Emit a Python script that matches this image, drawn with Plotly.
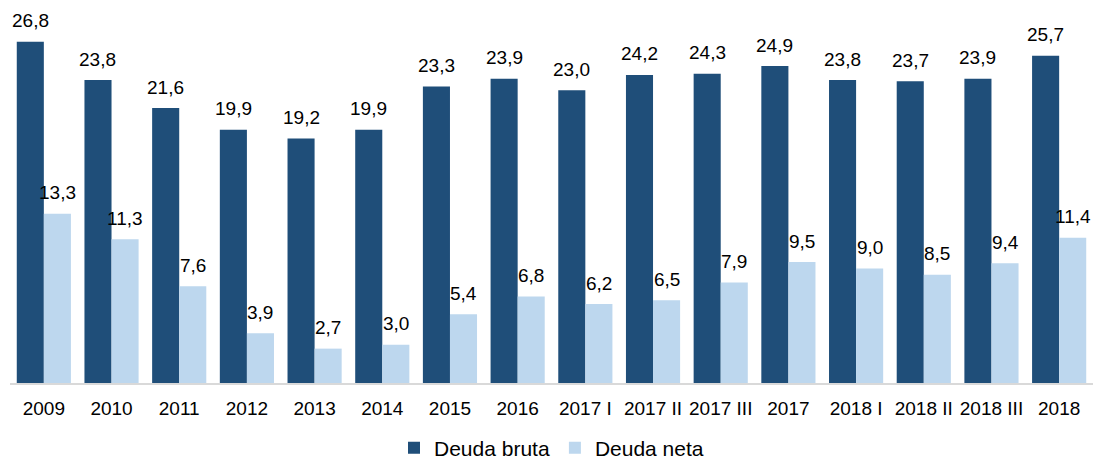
import plotly.graph_objects as go

categorias = ["2009", "2010", "2011", "2012", "2013", "2014", "2015", "2016",
              "2017 I", "2017 II", "2017 III", "2017", "2018 I", "2018 II", "2018 III", "2018"]
deuda_bruta = [26.8, 23.8, 21.6, 19.9, 19.2, 19.9, 23.3, 23.9,
               23.0, 24.2, 24.3, 24.9, 23.8, 23.7, 23.9, 25.7]
deuda_neta = [13.3, 11.3, 7.6, 3.9, 2.7, 3.0, 5.4, 6.8,
              6.2, 6.5, 7.9, 9.5, 9.0, 8.5, 9.4, 11.4]


def coma(v):
    return f"{v:.1f}".replace(".", ",")


# la página tiene 8px de margen en el body
W, H = 1098, 451
ML, MR = 2, 13
ancho_cat = (W - ML - MR) / len(categorias)
medio_barra = ancho_cat * 0.8 / 4

fig = go.Figure()
fig.add_trace(go.Bar(x=categorias, y=deuda_bruta, name="Deuda bruta",
                     marker_color="#1F4E79", marker_line_width=0))
fig.add_trace(go.Bar(x=categorias, y=deuda_neta, name="Deuda neta",
                     marker_color="#BDD7EE", marker_line_width=0))

# etiquetas de valor (x = índice de la categoría, "2009" se leería como número)
for i, (b, n) in enumerate(zip(deuda_bruta, deuda_neta)):
    for val, dx in ((b, -medio_barra), (n, medio_barra)):
        fig.add_annotation(x=i, y=val, text=coma(val), showarrow=False,
                           xshift=dx, yshift=21, yanchor="middle",
                           font=dict(size=19, color="#000000"))

fig.update_layout(
    width=W, height=H,
    barmode="group", bargap=0.2, bargroupgap=0,
    plot_bgcolor="white", paper_bgcolor="white",
    font=dict(family="Liberation Sans, Arial, sans-serif", size=19, color="#000000"),
    margin=dict(l=ML, r=MR, t=2, b=76, autoexpand=False),
    legend=dict(orientation="h", x=0.5, xanchor="center",
                yref="container", y=0.024, yanchor="middle",
                font=dict(size=21), traceorder="normal", itemwidth=30),
)
fig.update_xaxes(type="category", showline=True, linecolor="#D9D9D9", linewidth=2,
                 ticks="", tickfont=dict(size=19), ticklabelstandoff=7,
                 range=[-0.5, len(categorias) - 0.5])
fig.update_yaxes(visible=False, range=[0, 29.3])

fig.write_html("out.html")
